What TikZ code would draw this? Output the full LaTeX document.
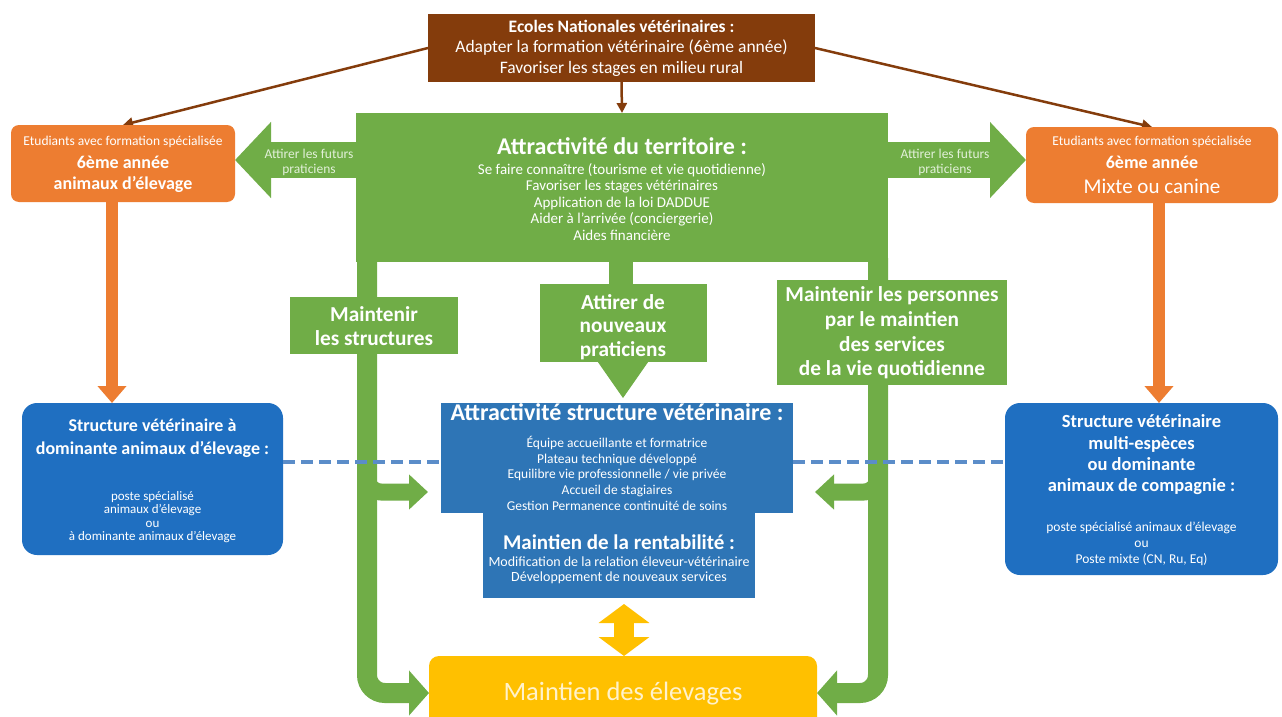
\documentclass[tikz,border=0pt]{standalone}
\usepackage{fontspec}
\setmainfont{Carlito}
\usetikzlibrary{arrows.meta}
\pgfdeclarelayer{back}
\pgfdeclarelayer{bg}
\pgfsetlayers{back,bg,main}
\definecolor{brownc}{HTML}{843C0C}
\definecolor{orangec}{HTML}{ED7D31}
\definecolor{greenc}{HTML}{70AD47}
\definecolor{bluec}{HTML}{2E75B6}
\definecolor{blueside}{HTML}{1F6FC1}
\definecolor{yellowc}{HTML}{FFC000}
\definecolor{dashc}{HTML}{5B8DC9}
\definecolor{ylight}{HTML}{FFF2CC}
\definecolor{glight}{HTML}{E2F0D9}
\newcommand{\fsz}[2]{\fontsize{#1}{#2}\selectfont}
\tikzset{
  panel/.style={inner sep=0pt, outer sep=0pt, draw=none},
  lbl/.style={inner sep=0pt, align=center, text=white},
  greenleg/.style={draw=greenc, line width=20pt, rounded corners=18pt, -{Triangle[length=20pt,width=44pt]}},
  greenbranch/.style={draw=greenc, line width=17pt, rounded corners=14pt, -{Triangle[length=19pt,width=34pt]}},
  brownarrow/.style={draw=brownc, line width=2.5pt, -{Triangle[length=10pt,width=10pt]}},
  orangearrow/.style={draw=orangec, line width=12pt, -{Triangle[length=17pt,width=28pt]}},
  bigarrow/.style={draw=greenc, line width=36pt, -{Triangle[length=36pt,width=74pt]}},
  dashlink/.style={draw=dashc, line width=3.5pt, dash pattern=on 12pt off 6pt},
}
\begin{document}
\begin{tikzpicture}[x=1pt,y=-1pt]
\begin{pgfonlayer}{back}
\fill[white] (0,0) rectangle (1282,717);
\end{pgfonlayer}
\path[use as bounding box] (0,0) rectangle (1282,717);

% helper coordinates
\coordinate (fy) at (0,160);
\coordinate (lx) at (367,0);
\coordinate (rx) at (878,0);
\coordinate (sx) at (621,0);
\coordinate (dashy) at (0,462);
\coordinate (brY) at (0,492);
\coordinate (ox1) at (112,0);
\coordinate (ox2) at (1159,0);
\coordinate (yx) at (624,0);

% panels
\node[panel, fill=brownc, minimum width=387pt, minimum height=68pt] (ecoles) at (621.5,48) {};
\node[panel, fill=greenc, minimum width=532pt, minimum height=149pt] (terr) at (622,187.5) {};
\node[panel, fill=orangec, rounded corners=8pt, minimum width=224pt, minimum height=77pt] (lor) at (123,163.5) {};
\node[panel, fill=orangec, rounded corners=8pt, minimum width=252pt, minimum height=76pt] (ror) at (1152,165) {};
\node[panel, fill=greenc, minimum width=168pt, minimum height=57pt] (mstruct) at (374,325.5) {};
\node[panel, fill=greenc, minimum width=167pt, minimum height=78pt] (attirer) at (623,323) {};
\node[panel, fill=greenc, minimum width=230pt, minimum height=105pt] (mpers) at (892,332.5) {};
\node[panel, fill=blueside, rounded corners=15pt, minimum width=261pt, minimum height=152pt] (lblue) at (152.5,479) {};
\node[panel, fill=blueside, rounded corners=15pt, minimum width=273pt, minimum height=172pt] (rblue) at (1141.5,489) {};
\node[panel, fill=bluec, minimum width=352pt, minimum height=110pt] (ctop) at (617,458) {};
\node[panel, fill=bluec, minimum width=272pt, minimum height=85pt] (cbot) at (619,555.5) {};
\node[panel, fill=yellowc, rounded corners=10pt, minimum width=388pt, minimum height=74pt] (maint) at (623,693) {};

% connectors
\begin{pgfonlayer}{bg}
\draw[greenleg] ([yshift=4pt]terr.south -| lx) |- (maint.west);
\draw[greenleg] ([yshift=4pt]terr.south -| rx) |- (maint.east);
\draw[greenbranch, shorten >=13pt] ([yshift=40pt]brY -| lx) |- (ctop.west |- brY);
\draw[greenbranch, shorten >=22pt] ([yshift=40pt]brY -| rx) |- (ctop.east |- brY);
\draw[draw=greenc, line width=24pt] ([yshift=4pt]terr.south -| sx) -- (attirer.north -| sx);
\draw[draw=greenc, line width=1pt, -{Triangle[length=36pt,width=50pt]}, shorten >=5pt] (attirer.south) -- (attirer.south |- ctop.north);
\draw[bigarrow] (terr.west |- fy) -- (lor.east |- fy);
\draw[bigarrow] (terr.east |- fy) -- (ror.west |- fy);
\draw[brownarrow] (ecoles.west) -- (lor.north);
\draw[brownarrow] (ecoles.south) -- (terr.north);
\draw[brownarrow] (ecoles.east) -- (ror.north);
\draw[orangearrow] (lor.south -| ox1) -- (lblue.north -| ox1);
\draw[orangearrow] (ror.south -| ox2) -- (rblue.north -| ox2);
\draw[draw=yellowc, line width=20pt, {Triangle[length=19pt,width=50pt]}-{Triangle[length=19pt,width=50pt]}, shorten <=6pt] (cbot.south -| yx) -- (maint.north -| yx);
\end{pgfonlayer}
\draw[dashlink] (lblue.east |- dashy) -- (ctop.west |- dashy);
\draw[dashlink] (ctop.east |- dashy) -- (rblue.west |- dashy);

% texts
\node[lbl, font=\fsz{17.5}{20.5}] (ecolesT) at (621.5,48) {\textbf{Ecoles Nationales vétérinaires :}\\Adapter la formation vétérinaire (6ème année)\\Favoriser les stages en milieu rural};

\node[lbl, font=\fsz{13.5}{15}] (lorT1) at (123,142) {Etudiants avec formation spécialisée};
\node[lbl, font=\bfseries\fsz{18}{21}] (lorT2) at (123,162) {6ème année};
\node[lbl, font=\bfseries\fsz{18}{21}] (lorT3) at (123,184) {animaux d’élevage};

\node[lbl, font=\fsz{13.5}{15}] (rorT1) at (1152,142) {Etudiants avec formation spécialisée};
\node[lbl, font=\bfseries\fsz{18}{21}] (rorT2) at (1152,162) {6ème année};
\node[lbl, font=\fsz{21}{24}] (rorT3) at (1152,186) {Mixte ou canine};

\node[lbl, font=\bfseries\fsz{24}{28}] (terrT1) at (622,146) {Attractivité du territoire :};
\node[lbl, font=\fsz{15}{16.5}] (terrT2) at (622,202) {Se faire connaître (tourisme et vie quotidienne)\\Favoriser les stages vétérinaires\\Application de la loi DADDUE\\Aider à l’arrivée (conciergerie)\\Aides financière};

\node[lbl, text=glight, font=\fsz{13.5}{15}] (futL) at (309,162.5) {Attirer les futurs\\praticiens};
\node[lbl, text=glight, font=\fsz{13.5}{15}] (futR) at (945,162.5) {Attirer les futurs\\praticiens};

\node[lbl, font=\bfseries\fsz{21.3}{24}] (mstructT) at (374,326) {Maintenir\\les structures};
\node[lbl, font=\bfseries\fsz{21.3}{23.5}] (attirerT) at (623,327) {Attirer de\\nouveaux\\praticiens};
\node[lbl, font=\bfseries\fsz{21.3}{24.7}] (mpersT) at (892,333) {Maintenir les personnes\\par le maintien\\des services\\de la vie quotidienne};

\node[lbl, font=\bfseries\fsz{18}{23}] (lblueT1) at (152.5,438.5) {Structure vétérinaire à\\dominante animaux d’élevage :};
\node[lbl, font=\fsz{13}{13.6}] (lblueT2) at (152.5,517) {poste spécialisé\\animaux d’élevage\\ou\\à dominante animaux d’élevage};

\node[lbl, font=\bfseries\fsz{18.5}{21.3}] (rblueT1) at (1141.5,455) {Structure vétérinaire\\multi-espèces\\ou dominante\\animaux de compagnie :};
\node[lbl, font=\fsz{13.5}{16}] (rblueT2) at (1141.5,544) {poste spécialisé animaux d’élevage\\ou\\Poste mixte (CN, Ru, Eq)};

\node[lbl, font=\bfseries\fsz{24}{28}] (ctopT1) at (617,412) {Attractivité structure vétérinaire :};
\node[lbl, font=\fsz{13.5}{15.8}] (ctopT2) at (617,473.3) {Équipe accueillante et formatrice\\Plateau technique développé\\Equilibre vie professionnelle / vie privée\\Accueil de stagiaires\\Gestion Permanence continuité de soins};
\node[lbl, font=\bfseries\fsz{21}{24}] (cbotT1) at (619,542) {Maintien de la rentabilité :};
\node[lbl, font=\fsz{14}{14.6}] (cbotT2) at (619,570) {Modification de la relation éleveur-vétérinaire\\Développement de nouveaux services};

\node[lbl, text=ylight, font=\fsz{26.5}{30}] (maintT) at (623,694) {Maintien des élevages};
\end{tikzpicture}
\end{document}
